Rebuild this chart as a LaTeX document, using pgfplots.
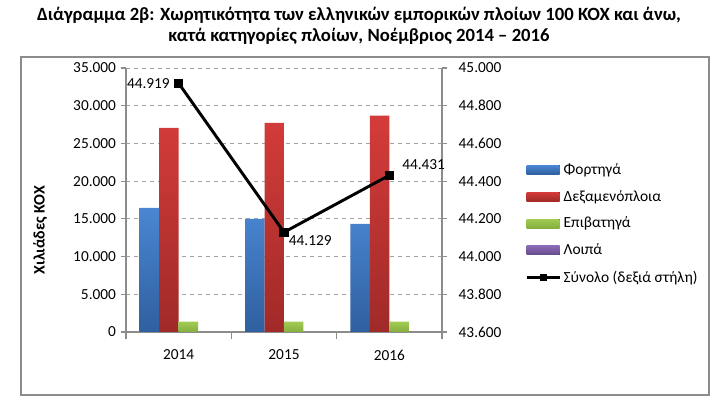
\documentclass[border=0pt]{standalone}
\usepackage{fontspec}
\setmainfont{Carlito}
\usepackage{pgfplots}
\pgfplotsset{compat=1.18}
\definecolor{bluetop}{HTML}{4A86D2}
\definecolor{bluebot}{HTML}{2F609F}
\definecolor{redtop}{HTML}{D43C3A}
\definecolor{redbot}{HTML}{A02A28}
\definecolor{greentop}{HTML}{A2CB55}
\definecolor{greenbot}{HTML}{86AE3E}
\definecolor{purtop}{HTML}{8A6AB4}
\definecolor{purbot}{HTML}{664A8C}
\definecolor{axgray}{HTML}{8C8C8C}
\pgfplotsset{
  common/.style={
    at={(94.5pt,-249pt)}, anchor=south west,
    scale only axis, width=237pt, height=198pt,
    xmin=-0.5, xmax=2.5,
    tick align=outside,
    scaled y ticks=false,
    axis line style={axgray, line width=0.8pt},
    tick style={axgray, line width=0.8pt},
    major tick length=4pt, minor tick length=5pt,
    ticklabel style={font=\fontsize{11.5}{13}\selectfont},
    /pgf/number format/.cd, fixed, precision=0, 1000 sep={.}, assume math mode=true,
  },
  barleg/.style={legend image code/.code={\fill[##1] (0pt,-3.4pt) rectangle (24.75pt,3.4pt);}},
  lineleg/.style={legend image code/.code={\draw[black, line width=2.2pt] (0pt,0pt) -- (24.75pt,0pt); \fill[black] (10.2pt,-2.2pt) rectangle (14.6pt,2.2pt);}},
}
\begin{document}
\begin{tikzpicture}
\path[use as bounding box] (0,0) rectangle (538.5pt,-298.5pt);
\draw[color=axgray, line width=0.8pt] (15.75pt,-42.75pt) rectangle (531.75pt,-296.25pt);
\node[font=\bfseries\fontsize{14}{15.75}\selectfont, align=center] at (269.25pt,-19.6pt)
 {Διάγραμμα 2β: Χωρητικότητα των ελληνικών εμπορικών πλοίων 100 ΚΟΧ και άνω,\\κατά κατηγορίες πλοίων, Νοέμβριος 2014 – 2016};
\begin{axis}[common,
  ymin=0, ymax=35000, ytick={0,5000,10000,15000,20000,25000,30000,35000},
  axis x line*=bottom, axis y line*=left,
  xtick={0,1,2}, xticklabels={2014,2015,2016},
  minor xtick={-0.5,0.5,1.5,2.5},
  major x tick style={draw=none},
  xticklabel style={yshift=-6pt},
  ymajorgrids, grid style={axgray!80, dashed, line width=0.6pt},
  ybar=0pt, bar width=14.6pt,
  ylabel={\bfseries Χιλιάδες ΚΟΧ},
  ylabel style={at={(axis description cs:-0.272,0.386)}, anchor=center, font=\fontsize{12}{14}\selectfont},
  legend style={at={(axis description cs:1.262,0.41)}, anchor=west, draw=none, fill=none,
    font=\fontsize{11.6}{13}\selectfont, row sep=6.5pt, inner sep=0pt},
  legend cell align=left,
]
\addplot[barleg, draw=none, top color=bluetop, bottom color=bluebot] coordinates {(0,16450) (1,15000) (2,14350)};
\addplot[barleg, draw=none, top color=redtop, bottom color=redbot] coordinates {(0,27050) (1,27720) (2,28680)};
\addplot[barleg, draw=none, top color=greentop, bottom color=greenbot] coordinates {(0,1390) (1,1380) (2,1370)};
\addplot[barleg, draw=none, top color=purtop, bottom color=purbot] coordinates {(0,30) (1,29) (2,31)};
\addlegendimage{lineleg}
\legend{Φορτηγά, Δεξαμενόπλοια, Επιβατηγά, Λοιπά, Σύνολο (δεξιά στήλη)}
\end{axis}
\begin{axis}[common,
  ymin=43600, ymax=45000, ytick={43600,43800,44000,44200,44400,44600,44800,45000},
  axis y line*=right, axis x line=none,
  yticklabel style={xshift=5pt},
  nodes near coords style={font=\fontsize{11.5}{13}\selectfont, inner sep=1pt, text=black},
]
\addplot[black, line width=2.2pt, mark=square*, mark size=2.4pt] coordinates {(0,44919) (1,44129) (2,44431)};
\addplot[draw=none, mark=none, nodes near coords, point meta=explicit symbolic,
  nodes near coords style={anchor=east, xshift=-5.5pt}] coordinates {(0,44919) [44.919]};
\addplot[draw=none, mark=none, nodes near coords, point meta=explicit symbolic,
  nodes near coords style={anchor=north west, xshift=2.5pt, yshift=-1pt}] coordinates {(1,44129) [44.129]};
\addplot[draw=none, mark=none, nodes near coords, point meta=explicit symbolic,
  nodes near coords style={anchor=south west, xshift=8.5pt, yshift=3pt}] coordinates {(2,44431) [44.431]};
\end{axis}
\end{tikzpicture}
\end{document}
